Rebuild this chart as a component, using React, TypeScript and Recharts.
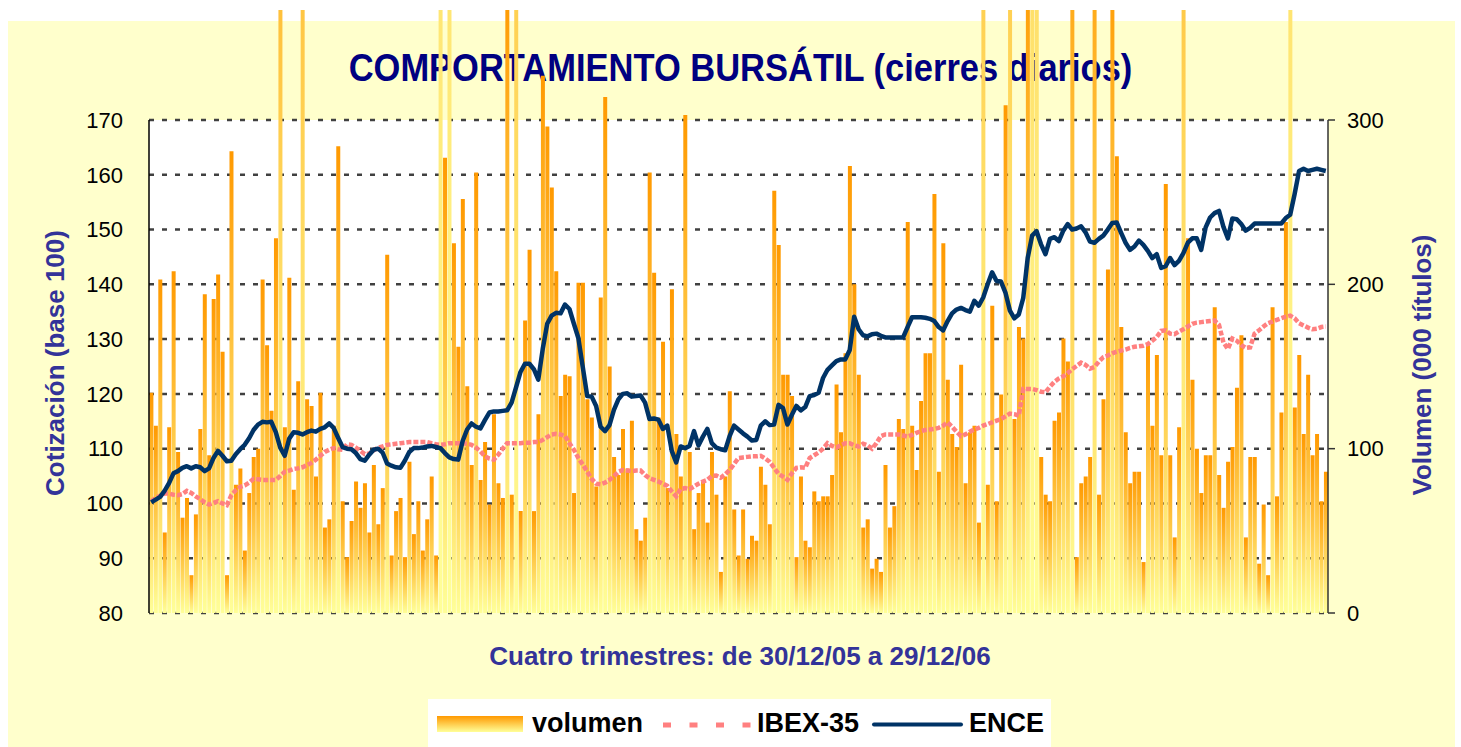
import {
  ComposedChart,
  Bar,
  Line,
  XAxis,
  YAxis,
  CartesianGrid,
  Legend,
} from "recharts";

// volumen diario (miles de títulos)
const volumen = [
  134, 114, 203, 49, 113, 208, 98, 58, 70, 23,
  60, 112, 194, 96, 191, 206, 159, 23, 281, 78,
  88, 38, 73, 95, 100, 203, 163, 123, 228, 600,
  113, 204, 75, 141, 650, 130, 126, 83, 134, 52,
  57, 114, 284, 68, 34, 56, 80, 64, 79, 49,
  90, 54, 76,
  218, 35, 62, 70, 34, 92, 48, 68, 38, 57,
  83, 35, 1500, 277, 1500, 225, 162, 252, 138, 90,
  268, 81, 104, 66, 121, 79, 70, 380, 72, 800,
  62, 178, 221, 62, 121, 327, 296, 259, 208, 132,
  145, 144, 73, 201, 201, 130, 119, 77, 192, 314,
  150, 95, 84, 112,
  88, 117, 51, 44, 58, 268, 207, 119, 165, 76,
  197, 109, 83, 303, 98, 51, 73, 80, 55, 98,
  72, 25, 83, 135, 63, 35, 63, 33, 47, 44,
  89, 78, 54, 257, 224, 145, 145, 132, 34, 83,
  44, 40, 74, 68, 71, 71, 84, 139, 110, 158,
  272, 200, 145, 52,
  57, 27, 33, 25, 90, 52, 65, 118, 112,
  238, 114, 87, 129, 158, 158, 255, 86, 225, 142,
  109, 101, 151, 79, 110, 114, 55, 800, 78, 187,
  68, 133, 309, 800, 118, 174, 167, 400, 1200,
  1200, 95, 72, 68, 117, 122, 167, 153, 450,
  34, 79, 83, 95, 450, 72, 130,
  209, 400, 278, 174, 110, 79, 86, 86, 31, 163,
  114, 157, 96, 261, 96, 46, 113, 700, 228, 142,
  100, 73, 96, 96, 186, 84, 64, 92, 101, 137,
  169, 46, 95, 95, 30, 66, 23, 186, 71, 122,
  238, 1400, 125, 157, 109, 145, 96, 109, 68, 86,
];

// IBEX-35 (base 100)
const ibex = [
  100.4, 101.0, 101.4, 101.8, 101.8, 101.6, 101.5, 101.7, 102.3, 101.9,
  101.3, 100.8, 100.2, 99.8, 100.1, 100.4, 100.0, 99.7, 101.5, 102.4,
  103.0, 103.3, 103.8, 104.5, 104.4, 104.3, 104.3, 104.3, 104.3, 105.0,
  105.8, 106.0, 106.3, 106.4, 106.6, 107.0, 107.4, 108.0, 108.7, 109.4,
  109.8, 110.1, 109.9, 109.8, 110.8, 110.7, 110.2, 109.6, 109.0, 109.1,
  109.7, 110.2, 110.4, 110.7, 110.8, 110.9, 111.0, 111.1, 111.2, 111.2,
  111.2, 111.2, 111.2, 111.0, 110.8, 110.7, 110.8, 111.0, 111.0, 111.0,
  111.0, 110.9, 110.7, 110.2, 109.5, 108.6, 108.2, 108.0, 108.9, 110.0,
  111.0, 111.0, 111.0, 111.0, 111.1, 111.1, 111.2, 111.2, 111.6, 112.1,
  112.6, 112.7, 112.6, 112.3, 111.0, 109.8, 108.3, 107.1, 105.8, 104.5,
  103.6, 103.5, 103.8, 104.3, 105.0, 105.8, 106.1, 106.0, 105.9, 106.0,
  106.0, 105.2, 104.6, 104.3, 104.0, 103.6, 103.2, 102.2, 101.3, 102.6,
  102.8, 102.6, 103.1, 103.6, 104.0, 104.3, 105.0, 105.1, 104.7, 105.3,
  106.1, 107.2, 108.3, 108.4, 108.5, 108.6, 108.6, 108.7, 108.2, 107.6,
  106.5, 105.4, 104.9, 104.3, 105.5, 106.5, 106.6, 106.5, 108.3, 108.8,
  109.3, 110.0, 111.0, 110.5, 110.2, 110.6, 111.0, 111.0, 110.6, 110.4,
  110.9, 110.6, 110.0, 111.0, 112.3, 112.6, 112.6, 112.6, 112.6, 112.4,
  112.2, 112.5, 112.9, 113.2, 113.4, 113.5, 113.6, 113.8, 114.2, 114.8,
  114.0, 113.1, 112.3, 112.6, 113.1, 113.5, 113.8, 114.2, 114.5, 114.8,
  115.1, 115.4, 115.9, 116.4, 116.3, 116.0, 120.9, 120.9, 120.9, 120.7,
  120.4, 120.3, 121.3, 122.2, 122.8, 123.2, 123.8, 124.5, 125.1, 125.7,
  125.3, 124.6, 124.9, 125.9, 126.7, 127.0, 127.4, 127.7, 127.9, 128.1,
  128.4, 128.6, 128.7, 128.8, 129.1, 129.7, 130.4, 131.5, 131.6, 131.0,
  130.9, 131.4, 131.8, 132.3, 132.8, 133.0, 133.1, 133.2, 133.3, 133.4,
  132.6, 129.4, 128.2, 130.1, 129.7, 128.9, 128.4, 128.5, 131.0, 131.6,
  132.3, 132.9, 133.2, 133.5, 133.8, 134.1, 134.3, 133.8, 132.9, 132.5,
  132.1, 131.8, 131.9, 132.2, 132.3,
];

// ENCE (base 100)
const ence = [
  100.2, 100.7, 101.2, 102.3, 103.7, 105.5, 105.9, 106.5, 106.8, 106.4,
  106.8, 106.6, 105.9, 106.4, 108.3, 109.6, 108.7, 107.7, 107.8, 109.0,
  109.9, 110.7, 111.9, 113.4, 114.4, 114.9, 114.8, 114.9, 113.0, 110.2,
  108.7, 111.8, 113.0, 112.9, 112.6, 113.0, 113.3, 113.1, 113.6, 113.9,
  114.6, 113.8, 112.0, 110.3, 110.0, 109.9, 109.2, 108.1, 107.8, 108.9,
  109.8, 110.0, 109.3, 107.3, 106.9, 106.6, 106.5, 107.8, 109.4, 110.1,
  110.1, 110.2, 110.4, 110.5, 110.3, 110.1, 109.2, 108.4, 108.1, 108.0,
  111.4, 113.5, 114.6, 114.0, 113.7, 115.2, 116.6, 116.8, 116.8, 116.9,
  117.0, 118.4, 121.2, 124.0, 125.5, 125.5, 124.5, 122.6, 128.2, 132.8,
  134.3, 134.8, 134.7, 136.3, 135.5, 132.8, 130.2, 124.9, 119.6, 119.5,
  117.8, 114.0, 113.2, 114.3, 117.1, 119.0, 120.0, 120.1, 119.5, 119.6,
  119.7, 118.4, 115.4, 115.5, 115.3, 113.6, 114.2, 109.6, 107.5, 110.4,
  110.1, 110.5, 113.2, 110.6, 112.2, 113.6, 111.0, 110.2, 109.9, 109.7,
  112.3, 114.2, 113.5, 112.8, 112.2, 111.5, 111.6, 114.2, 115.0, 114.3,
  114.4, 118.0, 117.4, 114.4, 116.2, 117.8, 117.0, 117.6, 119.6, 119.8,
  120.2, 122.9, 124.4, 125.2, 126.0, 126.3, 126.3, 128.0, 134.1, 131.8,
  130.7, 130.5, 130.9, 131.0, 130.6, 130.3, 130.3, 130.3, 130.3, 130.3,
  132.2, 134.0, 134.0, 134.0, 133.9, 133.7, 133.3, 132.2, 131.6, 133.3,
  134.7, 135.4, 135.7, 135.3, 135.0, 137.0, 136.1, 137.6, 140.0, 142.2,
  140.6, 140.5, 138.5, 135.2, 133.8, 134.5, 137.5, 144.8, 148.9, 149.7,
  147.3, 145.5, 148.3, 148.6, 147.9, 149.8, 151.0, 150.0, 150.2, 150.6,
  149.5, 147.8, 147.6, 148.3, 148.9, 150.0, 151.2, 151.3, 149.4, 147.6,
  146.3, 146.9, 148.0, 147.2, 146.1, 144.8, 145.5, 143.0, 143.3, 144.8,
  143.5, 144.3, 145.7, 147.6, 148.4, 148.4, 146.3, 150.4, 152.2, 153.0,
  153.4, 150.5, 148.4, 152.0, 151.9, 151.0, 149.8, 150.3, 151.1, 151.1,
  151.1, 151.1, 151.1, 151.1, 151.1, 152.1, 152.7, 156.5, 160.7, 161.1,
  160.7, 160.9, 161.1, 160.9, 160.7,
];

const leftTicks = [80, 90, 100, 110, 120, 130, 140, 150, 160, 170];
const rightTicks = [0, 100, 200, 300];

const data = volumen.map((v, i) => ({
  dia: i + 1,
  volumen: v,
  ibex: ibex[i],
  ence: ence[i],
}));

const FONT = '"Liberation Sans", Arial, sans-serif';
const W = 1447;
const H = 737;

function LegendBox() {
  return (
    <svg width={623} height={48} style={{ display: "block" }}>
      <defs>
        <linearGradient id="legVol" x1="0" y1="0" x2="0" y2="1">
          <stop offset="0%" stopColor="#FF9900" />
          <stop offset="100%" stopColor="#FFFF99" />
        </linearGradient>
      </defs>
      <rect x={0} y={0} width={623} height={48} fill="#fff" />
      <rect x={9} y={17} width={86} height={16} fill="url(#legVol)" />
      <g fontFamily={FONT} fontWeight="bold" fontSize={27} fill="#000">
        <text x={104} y={33}>volumen</text>
        <text x={329} y={33}>IBEX-35</text>
        <text x={541} y={33}>ENCE</text>
      </g>
      <line x1={235} y1={26} x2={323} y2={26} stroke="#FF8080" strokeWidth={5} strokeDasharray="8 18.5" />
      <line x1={446} y1={25.5} x2={533} y2={25.5} stroke="#003366" strokeWidth={4} strokeLinecap="round" />
    </svg>
  );
}

const leftLabel = () => (
  <text
    x={47}
    y={353}
    transform="rotate(-90 47 353)"
    textAnchor="middle"
    dominantBaseline="central"
    fill="#333399"
    fontSize={26}
    fontWeight="bold"
    fontFamily={FONT}
  >
    Cotización (base 100)
  </text>
);

const rightLabel = () => (
  <text
    x={1414}
    y={355}
    transform="rotate(-90 1414 355)"
    textAnchor="middle"
    dominantBaseline="central"
    fill="#333399"
    fontSize={26}
    fontWeight="bold"
    fontFamily={FONT}
  >
    Volumen (000 títulos)
  </text>
);

export default function App() {
  return (
    <div style={{ position: "absolute", left: 8, top: 10, width: W, height: H }}>
      <style>{`.recharts-bar-rectangles, .recharts-bar { clip-path: none !important; }`}</style>
      <div
        style={{
          position: "absolute",
          left: 0,
          top: 11,
          width: W,
          height: H - 11,
          background: "#FFFFCC",
        }}
      />
      <svg width={W} height={H} style={{ position: "absolute", left: 0, top: 0 }}>
        <text
          transform="translate(732.5 71) scale(1 1.1)"
          textAnchor="middle"
          fontFamily={FONT}
          fontWeight="bold"
          fontSize={34.5}
          fill="#000080"
        >
          COMPORTAMIENTO BURSÁTIL (cierres diarios)
        </text>
        <text
          x={732}
          y={655}
          textAnchor="middle"
          fontFamily={FONT}
          fontWeight="bold"
          fontSize={26}
          fill="#333399"
        >
          Cuatro trimestres: de 30/12/05 a 29/12/06
        </text>
      </svg>
      <div style={{ position: "absolute", left: 0, top: 0 }}>
        <ComposedChart
          width={W}
          height={H}
          data={data}
          margin={{ top: 110, right: 0, bottom: 134, left: 0 }}
          barCategoryGap="9%"
        >
          <defs>
            <linearGradient id="gradVol" x1="0" y1="0" x2="0" y2="1">
              <stop offset="0%" stopColor="#FF9900" />
              <stop offset="100%" stopColor="#FFFF99" />
            </linearGradient>
          </defs>
          <CartesianGrid
            yAxisId="left"
            vertical={false}
            fill="#fff"
            stroke="#404040"
            strokeWidth={2.5}
            strokeDasharray="5 8"
          />
          <XAxis dataKey="dia" hide />
          <YAxis
            yAxisId="left"
            orientation="left"
            width={141}
            domain={[80, 170]}
            ticks={leftTicks}
            interval={0}
            tickLine={false}
            tickSize={6}
            tickMargin={20}
            axisLine={{ stroke: "#000", strokeWidth: 1.5 }}
            tick={{ fill: "#000", fontSize: 22, fontFamily: FONT }}
            label={{ content: leftLabel }}
          />
          <YAxis
            yAxisId="right"
            orientation="right"
            width={127}
            domain={[0, 300]}
            ticks={rightTicks}
            interval={0}
            allowDataOverflow
            tickSize={7}
            tickMargin={12}
            tickLine={{ stroke: "#333", strokeWidth: 1.5 }}
            axisLine={{ stroke: "#333", strokeWidth: 1.5 }}
            tick={{ fill: "#000", fontSize: 22, fontFamily: FONT }}
            label={{ content: rightLabel }}
          />
          <Bar
            yAxisId="right"
            dataKey="volumen"
            name="volumen"
            fill="url(#gradVol)"
            isAnimationActive={false}
          />
          <Line
            yAxisId="left"
            type="linear"
            dataKey="ibex"
            name="IBEX-35"
            stroke="#FF8080"
            strokeWidth={4.5}
            strokeDasharray="5 2"
            dot={false}
            activeDot={false}
            isAnimationActive={false}
          />
          <Line
            yAxisId="left"
            type="linear"
            dataKey="ence"
            name="ENCE"
            stroke="#003366"
            strokeWidth={4.5}
            strokeLinejoin="round"
            dot={false}
            activeDot={false}
            isAnimationActive={false}
          />
          <Legend
            layout="horizontal"
            verticalAlign="middle"
            align="center"
            wrapperStyle={{ left: 419.5, top: 689, width: 623, height: 48 }}
            content={() => <LegendBox />}
          />
        </ComposedChart>
      </div>
    </div>
  );
}
